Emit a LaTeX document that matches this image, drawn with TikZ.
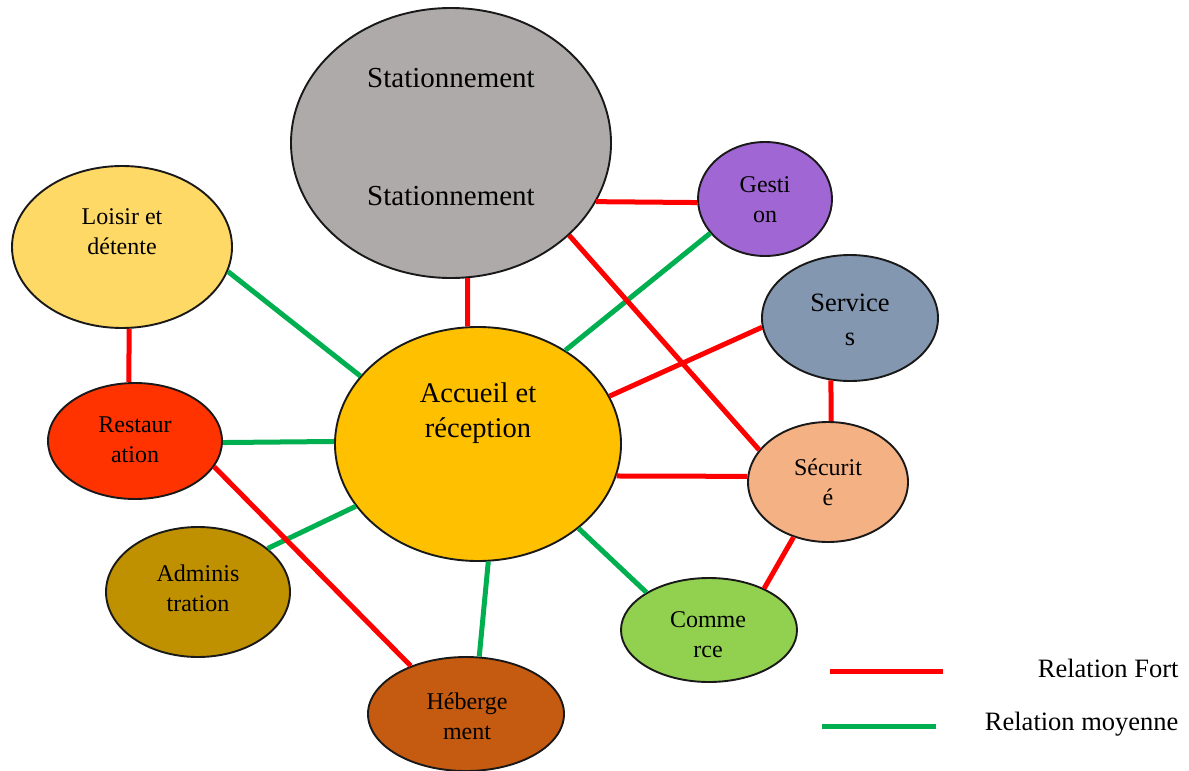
\documentclass[tikz,border=0pt]{standalone}
\usepackage{fontspec}
\setmainfont{Liberation Serif}
\usepackage{xcolor}
\usetikzlibrary{shapes.geometric}

\definecolor{statgray}{HTML}{AEAAAA}
\definecolor{gestpurple}{HTML}{A066D3}
\definecolor{loisyellow}{HTML}{FFD966}
\definecolor{servblue}{HTML}{8497B0}
\definecolor{accuorange}{HTML}{FFC000}
\definecolor{restred}{HTML}{FF3300}
\definecolor{secusalmon}{HTML}{F4B183}
\definecolor{admiochre}{HTML}{BF9000}
\definecolor{commgreen}{HTML}{92D050}
\definecolor{heberust}{HTML}{C55A11}
\definecolor{relred}{HTML}{FF0000}
\definecolor{relgreen}{HTML}{00B050}

\begin{document}
\begin{tikzpicture}[x=1pt,y=-1pt,
  zone/.style={ellipse,draw=black!90,line width=1.9pt,inner sep=0pt},
  fort/.style={draw=relred,line width=5pt},
  moyen/.style={draw=relgreen,line width=5pt},
  lbl/.style={align=center,font=\fontsize{24}{30}\selectfont}]
\useasboundingbox[fill=white] (0,0) rectangle (1189,771);

% zones
\node[zone,fill=statgray,minimum width=320,minimum height=270] (stat) at (451,143) {};
\node[zone,fill=gestpurple,minimum width=134,minimum height=114] (gest) at (765,199) {};
\node[zone,fill=loisyellow,minimum width=220,minimum height=162] (lois) at (122,247) {};
\node[zone,fill=servblue,minimum width=176,minimum height=126] (serv) at (850,318) {};
\node[zone,fill=accuorange,minimum width=286,minimum height=234] (accu) at (478,444) {};
\node[zone,fill=restred,minimum width=174,minimum height=116] (rest) at (135,441) {};
\node[zone,fill=secusalmon,minimum width=160,minimum height=120] (secu) at (828,482) {};
\node[zone,fill=admiochre,minimum width=184,minimum height=130] (admi) at (198,592) {};
\node[zone,fill=commgreen,minimum width=176,minimum height=104] (comm) at (709,630) {};
\node[zone,fill=heberust,minimum width=196,minimum height=114] (hebe) at (466,714) {};

% zone names
\node[lbl,font=\fontsize{29}{35}\selectfont] (stat-a) at (451,78) {Stationnement};
\node[lbl,font=\fontsize{29}{35}\selectfont] (stat-b) at (451,196) {Stationnement};
\node[lbl] (gest-t) at (765,200) {Gesti\\on};
\node[lbl] (lois-t) at (122,232) {Loisir et\\détente};
\node[lbl,font=\fontsize{26.5}{34}\selectfont] (serv-t) at (850,320) {Service\\s};
\node[lbl,font=\fontsize{28.5}{35}\selectfont] (accu-t) at (478,413) {Accueil et\\réception};
\node[lbl] (rest-t) at (135,440) {Restaur\\ation};
\node[lbl] (secu-t) at (828,482) {Sécurit\\é};
\node[lbl] (admi-t) at (198,588) {Adminis\\tration};
\node[lbl] (comm-t) at (708,635) {Comme\\rce};
\node[lbl] (hebe-t) at (467,716) {Héberge\\ment};

% medium relations
\draw[moyen] (lois.-13) -- (accu.150);
\draw[moyen] (gest.212) -- (accu.47);
\draw[moyen] (rest.-1.3) -- (accu.179.6);
\draw[moyen] (admi.32) -- (accu.207);
\draw[moyen] (accu.-85.6) -- (hebe.77);
\draw[moyen] (accu.-40) -- (comm.149);

% strong relations
\draw[fort] (stat.-83.6) -- (accu.95.9);
\draw[fort] (stat.-22.7) -- (gest.183.4);
\draw[fort] (stat.-38.3) -- (secu.155);
\draw[fort] (accu.20.5) -- (serv.186);
\draw[fort] (accu.-13.5) -- (secu.176.4);
\draw[fort] (serv.-107.2) -- (secu.87.1);
\draw[fort] (secu.238) -- (comm.37);
\draw[fort] (lois.-85.8) -- (rest.96.9);
\draw[fort] (rest.-18) -- (hebe.139.6);

% legend
\coordinate (fort-a) at (830,671);
\coordinate (fort-b) at (943,671);
\coordinate (moyen-a) at (822,726);
\coordinate (moyen-b) at (936,726);
\draw[fort] (fort-a) -- (fort-b);
\draw[moyen] (moyen-a) -- (moyen-b);
\node[anchor=east,font=\fontsize{26.5}{32}\selectfont] (fort-t) at (1182,668) {Relation Fort};
\node[anchor=east,font=\fontsize{26.5}{32}\selectfont] (moyen-t) at (1182,724) {Relation moyenne};
\end{tikzpicture}
\end{document}
